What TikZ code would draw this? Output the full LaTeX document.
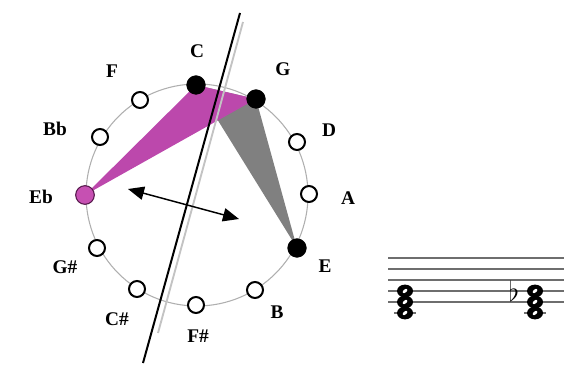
\documentclass[tikz,border=0pt]{standalone}
\usepackage{fontspec}
\setmainfont{Liberation Serif}
\usetikzlibrary{arrows.meta,positioning}
\definecolor{minorpink}{RGB}{188,72,172}
\definecolor{ebfill}{RGB}{198,80,178}
\definecolor{ebline}{RGB}{85,25,75}
\definecolor{ringgray}{RGB}{175,175,175}
\definecolor{majgray}{RGB}{128,128,128}
\definecolor{axisgray}{RGB}{195,195,195}
\definecolor{staffgray}{RGB}{110,110,110}

\begin{document}
\begin{tikzpicture}[
    x=0.75pt, y=-0.75pt,
    pcopen/.style={circle, draw=black, line width=1.5pt, fill=white, minimum size=12pt, inner sep=0pt},
    pcon/.style={circle, draw=black, fill=black, minimum size=14pt, inner sep=0pt},
    pcflat/.style={circle, draw=ebline, line width=0.8pt, fill=ebfill, minimum size=14pt, inner sep=0pt},
    lbl/.style={font=\fontsize{14.5}{17}\selectfont\bfseries, inner sep=0pt},
    staffline/.style={draw=staffgray, line width=1.1pt},
    swap/.style={{Triangle[length=12pt,width=10pt]}-{Triangle[length=12pt,width=10pt]}, line width=1.1pt}
]
\useasboundingbox (0,0) rectangle (574,366);

% ring of fifths
\draw[ringgray, line width=0.8pt] (197,195) circle [radius=111];
\coordinate (pC) at (196,85);
\coordinate (pG) at (256,99);
\coordinate (pE) at (297,248);
\coordinate (pEb) at (85,195);

% C major and C minor triads
\fill[majgray] (pC) -- (pG) -- (pE) -- cycle;
\fill[minorpink] (pC) -- (pG) -- (pEb) -- cycle;

\node[pcon] (nC) at (pC) {};
\node[pcon] (nG) at (pG) {};
\node[pcopen] (nD) at (297,142) {};
\node[pcopen] (nA) at (309,194) {};
\node[pcon] (nE) at (pE) {};
\node[pcopen] (nB) at (255,290) {};
\node[pcopen] (nFs) at (196,305) {};
\node[pcopen] (nCs) at (137,289) {};
\node[pcopen] (nGs) at (97,248) {};
\node[pcflat] (nEb) at (pEb) {};
\node[pcopen] (nBb) at (100,137) {};
\node[pcopen] (nF) at (140,100) {};

\node[lbl] (tC) at (197,51) {C};
\node[lbl] (tG) at (283,69) {G};
\node[lbl] (tD) at (329,130) {D};
\node[lbl] (tA) at (348,198) {A};
\node[lbl] (tE) at (325,266) {E};
\node[lbl] (tB) at (277,312) {B};
\node[lbl] (tFs) at (198,336) {F\#};
\node[lbl] (tCs) at (117,319) {C\#};
\node[lbl] (tGs) at (65,267) {G\#};
\node[lbl] (tEb) at (41,197) {Eb};
\node[lbl] (tBb) at (55,129) {Bb};
\node[lbl] (tF) at (112,71) {F};

% reflection axis
\coordinate (axT) at (243,22);
\coordinate (axB) at (158,333);
\draw[axisgray, line width=1.4pt] (axT) -- (axB);
\coordinate (cutT) at (240,13);
\coordinate (cutB) at (143,363);
\draw[line width=1.5pt] (cutT) -- (cutB);

\coordinate (arwL) at (128,189);
\coordinate (arwR) at (239,219);
\draw[swap] (arwL) -- (arwR);

% staff with the two chords
\foreach \y in {258,269,280,291,302}
    \draw[staffline] (388,\y) -- (564,\y);
\foreach \x in {405,535} {
    \draw[staffline] (\x-11,313) -- (\x+11,313);
    \foreach \y in {291,302,313} {
        \fill (\x,\y) ellipse [x radius=8, y radius=6.4];
        \fill[white, rotate around={40:(\x,\y)}] (\x,\y) ellipse [x radius=2.8, y radius=1.6];
    }
}
\node[anchor=base, inner sep=0pt, font=\fontsize{21}{21}\selectfont] (flatEb) at (514,301) {$\flat$};
\end{tikzpicture}
\end{document}
